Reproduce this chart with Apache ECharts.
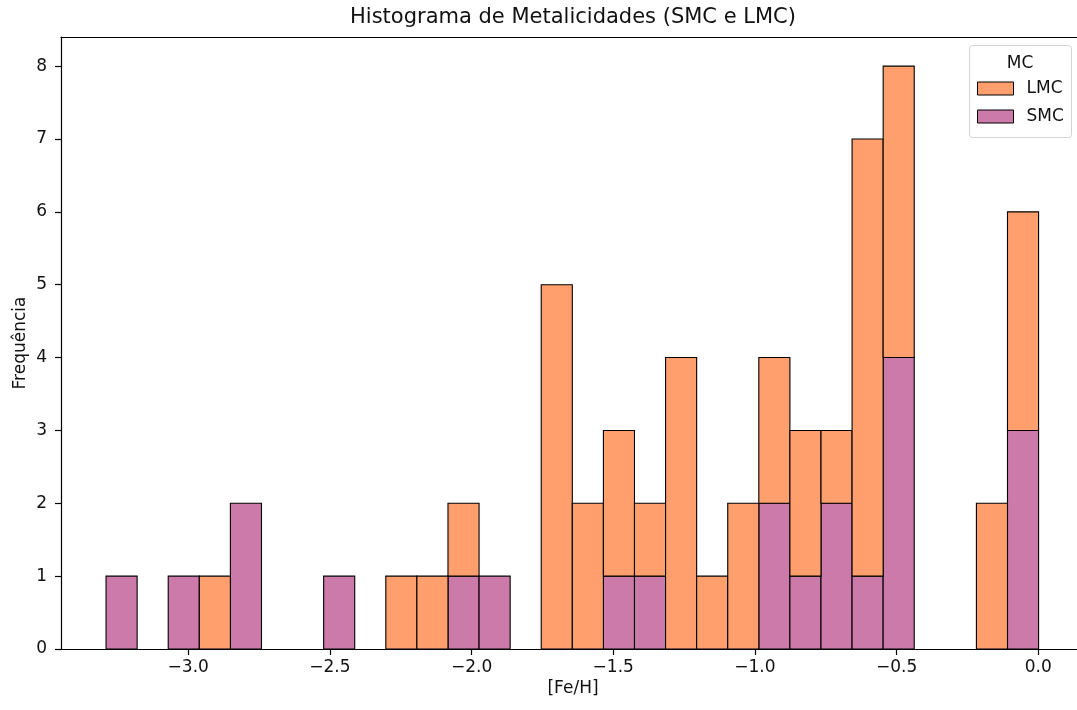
<!DOCTYPE html>
<html><head><meta charset="utf-8">
<script src="https://cdn.jsdelivr.net/npm/echarts@6/dist/echarts.min.js"></script>
<style>html,body{margin:0;padding:0;background:#fff}#c{width:1077px;height:710px}</style>
</head><body><div id="c"></div>
<script>
// Histogram definition (30 bins)
const binStart = -3.29;
const binWidth = 0.1097;
// counts per bin (left to right)
const smcCounts = [1,0,1,0,2,0,0,1,0,0,0,1,1,0,0,0,1,1,0,0,0,2,1,2,1,4,0,0,0,3];
const lmcCounts = [0,0,0,1,0,0,0,0,0,1,1,1,0,0,5,2,2,1,4,1,2,2,2,1,6,4,0,0,2,3];
const xTicks = [-3.0,-2.5,-2.0,-1.5,-1.0,-0.5,0.0];
const yTicks = [0,1,2,3,4,5,6,7,8];
const seriesNames = ['LMC','SMC'];
const colors = {LMC:'#FE9F6D', SMC:'#CB7AAA'};
const FONT = 'DejaVu Sans';
const TXT = '#111';

const smcData = [], lmcData = [];
for (let i = 0; i < smcCounts.length; i++) {
  const x0 = binStart + i * binWidth, x1 = x0 + binWidth;
  if (smcCounts[i] > 0) smcData.push([x0, x1, 0, smcCounts[i]]);
  if (lmcCounts[i] > 0) lmcData.push([x0, x1, smcCounts[i], smcCounts[i] + lmcCounts[i]]);
}

function renderBar(params, api) {
  const p0 = api.coord([api.value(0), api.value(2)]);
  const p1 = api.coord([api.value(1), api.value(3)]);
  return {
    type: 'rect',
    shape: {x: p0[0], y: p1[1], width: p1[0] - p0[0], height: p0[1] - p1[1]},
    style: {fill: api.visual('color'), stroke: '#000', lineWidth: 1.1}
  };
}

const XMIN = -3.449, XMAX = 0.1366;
const chart = echarts.init(document.getElementById('c'), null, {renderer: 'canvas'});
chart.setOption({
  animation: false,
  backgroundColor: '#fff',
  grid: {left: 61, top: 37, right: 0, bottom: 61, show: false},
  xAxis: [{
    type: 'value', min: XMIN, max: XMAX,
    axisLine: {show: true, onZero: false, lineStyle: {color: '#000', width: 1.2}},
    axisTick: {show: true, inside: false, length: 6, customValues: xTicks, lineStyle: {color: '#000', width: 1.2}},
    axisLabel: {customValues: xTicks, fontSize: 17, fontFamily: FONT, color: TXT, margin: 10,
      formatter: v => (v < 0 ? '\u2212' : '') + Math.abs(v).toFixed(1)},
    splitLine: {show: false}
  }, {
    type: 'value', position: 'top', min: XMIN, max: XMAX,
    axisLine: {show: true, onZero: false, lineStyle: {color: '#000', width: 1.2}},
    axisTick: {show: false}, axisLabel: {show: false}, splitLine: {show: false}
  }],
  yAxis: {
    type: 'value', min: 0, max: 8.4,
    axisLine: {show: true, onZero: false, lineStyle: {color: '#000', width: 1.2}},
    axisTick: {show: true, inside: false, length: 6, customValues: yTicks, lineStyle: {color: '#000', width: 1.2}},
    axisLabel: {customValues: yTicks, fontSize: 17, fontFamily: FONT, color: TXT, margin: 14},
    splitLine: {show: false}
  },
  legend: {
    orient: 'vertical', left: 977, top: 80, padding: 0,
    itemWidth: 36, itemHeight: 13, itemGap: 11,
    icon: 'rect',
    textStyle: {fontSize: 17, fontFamily: FONT, color: TXT, padding: [0, 0, 0, 8]},
    data: seriesNames.map(n => ({name: n, itemStyle: {color: colors[n], borderColor: '#000', borderWidth: 1}}))
  },
  graphic: [
    {type: 'rect', z: 3, shape: {x: 969.5, y: 45.5, width: 102, height: 92, r: 3},
      style: {fill: 'rgba(255,255,255,0.8)', stroke: '#d4d4d4', lineWidth: 1}},
    {type: 'text', z: 5, x: 1020, y: 64, style: {text: 'MC', fontSize: 17, fontFamily: FONT, fill: TXT, align: 'center', verticalAlign: 'middle'}},
    {type: 'text', z: 5, x: 573, y: 18, style: {text: 'Histograma de Metalicidades (SMC e LMC)', fontSize: 21, fontFamily: FONT, fill: TXT, align: 'center', verticalAlign: 'middle'}},
    {type: 'text', z: 5, x: 573, y: 689, style: {text: '[Fe/H]', fontSize: 17, fontFamily: FONT, fill: TXT, align: 'center', verticalAlign: 'middle'}},
    {type: 'text', z: 5, x: 21, y: 343, rotation: Math.PI / 2, style: {text: 'Frequência', fontSize: 17, fontFamily: FONT, fill: TXT, align: 'center', verticalAlign: 'middle'}}
  ],
  series: [
    {name: 'SMC', type: 'custom', renderItem: renderBar, data: smcData, encode: {x: [0, 1], y: [2, 3]}, itemStyle: {color: colors.SMC}, clip: true},
    {name: 'LMC', type: 'custom', renderItem: renderBar, data: lmcData, encode: {x: [0, 1], y: [2, 3]}, itemStyle: {color: colors.LMC}, clip: true}
  ]
});
</script></body></html>
